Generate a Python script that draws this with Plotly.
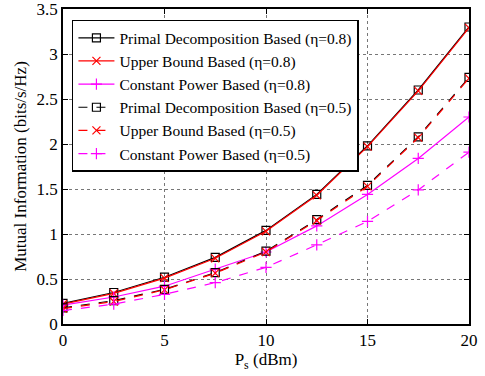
import plotly.graph_objects as go

ps_dbm = [0, 2.5, 5, 7.5, 10, 12.5, 15, 17.5, 20]

primal_08 = [0.23, 0.35, 0.52, 0.74, 1.04, 1.44, 1.98, 2.60, 3.30]
upper_08 = [0.22, 0.34, 0.51, 0.73, 1.03, 1.43, 1.97, 2.59, 3.29]
const_08 = [0.21, 0.30, 0.42, 0.61, 0.80, 1.09, 1.44, 1.84, 2.30]
primal_05 = [0.18, 0.26, 0.385, 0.57, 0.81, 1.16, 1.54, 2.08, 2.74]
upper_05 = [0.17, 0.25, 0.38, 0.565, 0.80, 1.15, 1.53, 2.07, 2.73]
const_05 = [0.15, 0.22, 0.33, 0.46, 0.63, 0.88, 1.14, 1.49, 1.91]

series = [
    ("Primal Decomposition Based (η=0.8)", primal_08, "black", "solid", "square-open"),
    ("Upper Bound Based (η=0.8)", upper_08, "red", "solid", "x-thin-open"),
    ("Constant Power Based (η=0.8)", const_08, "magenta", "solid", "cross-thin-open"),
    ("Primal Decomposition Based (η=0.5)", primal_05, "black", "dash", "square-open"),
    ("Upper Bound Based (η=0.5)", upper_05, "red", "dash", "x-thin-open"),
    ("Constant Power Based (η=0.5)", const_05, "magenta", "dash", "cross-thin-open"),
]

fig = go.Figure()
for name, ys, color, dash, sym in series:
    fig.add_trace(go.Scatter(
        x=ps_dbm, y=ys, name=name, mode="lines+markers",
        line=dict(color=color, width=1.2, dash=dash),
        marker=dict(symbol=sym, size=8, color=color, line=dict(color=color, width=1.2)),
    ))

font = "Liberation Serif"
axis_common = dict(
    showline=True, linecolor="black", linewidth=1.5, mirror="ticks",
    ticks="inside", ticklen=5, tickcolor="black", automargin=False,
    ticklabeloverflow="allow",
    showgrid=True, gridcolor="#777777", griddash="dot", gridwidth=1,
    zeroline=False, tickfont=dict(family=font, size=17, color="black"),
)

fig.update_layout(
    width=485, height=376,
    margin=dict(l=63, r=16, t=9, b=52),
    paper_bgcolor="white", plot_bgcolor="white",
    font=dict(family=font, size=16, color="black"),
    xaxis=dict(range=[0, 20], dtick=5,
               title=dict(text="P<sub>s</sub> (dBm)", font=dict(family=font, size=17), standoff=0),
               **axis_common),
    yaxis=dict(range=[0, 3.5], dtick=0.5,
               title=dict(text="Mutual Information (bits/s/Hz)", font=dict(family=font, size=17), standoff=6),
               **axis_common),
    legend=dict(x=0.022, y=0.966, xanchor="left", yanchor="top",
                bgcolor="white", bordercolor="black", borderwidth=1.5,
                font=dict(family=font, size=15.5), tracegroupgap=0,
                itemwidth=36),
    showlegend=True,
)

fig.write_html("out.html", config={"displayModeBar": False},
               post_script="document.body.style.margin='0';document.body.style.padding='0';")
